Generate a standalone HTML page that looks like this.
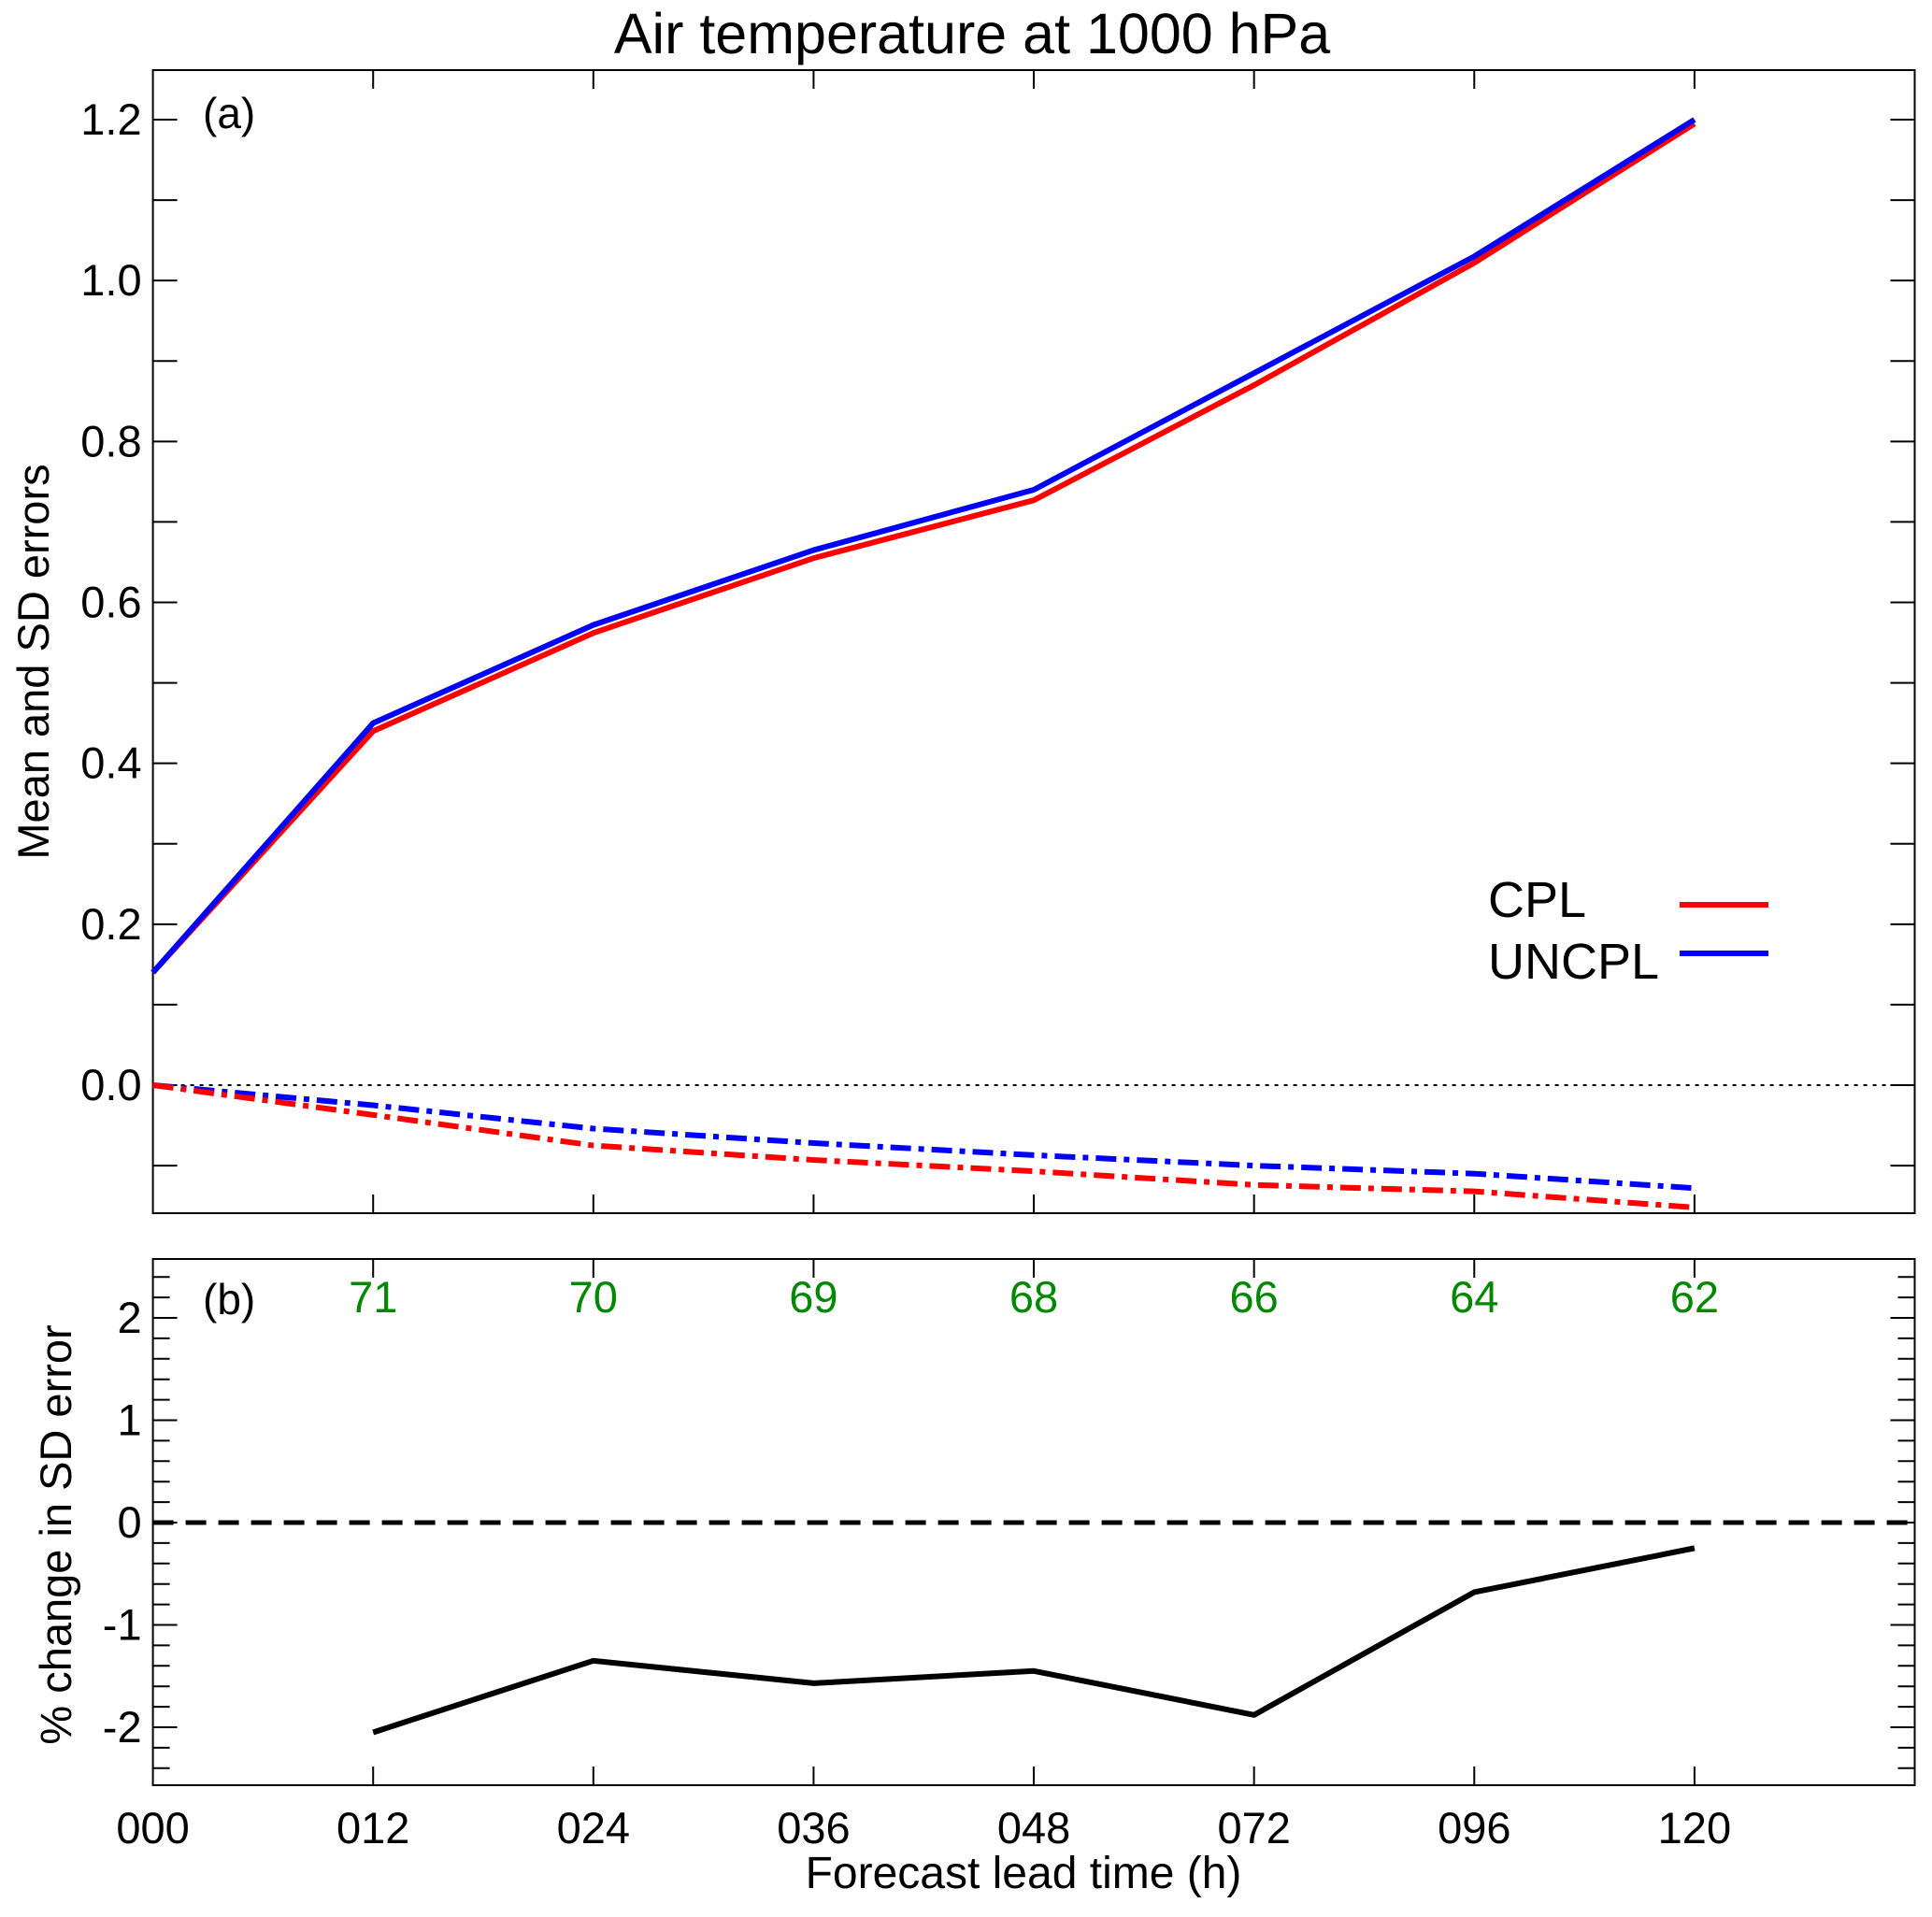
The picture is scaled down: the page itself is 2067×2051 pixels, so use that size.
<!DOCTYPE html>
<html><head><meta charset="utf-8"><style>
body{margin:0;background:#fff}
svg text{font-family:"Liberation Sans","DejaVu Sans",sans-serif;fill:#000}
</style></head><body>
<svg id="chart" width="2067" height="2046" viewBox="0 0 2067 2046" xmlns="http://www.w3.org/2000/svg">
<rect width="2067" height="2046" fill="#fff"/>
<text x="1040" y="57" font-size="61" text-anchor="middle">Air temperature at 1000 hPa</text>
<g id="pa"></g><g id="pb"></g>
</svg>
<script>
const categories=["000","012","024","036","048","072","096","120"];
const cplMean=[0.14,0.44,0.562,0.655,0.727,0.87,1.022,1.195];
const uncplMean=[0.14,0.45,0.572,0.665,0.74,0.885,1.03,1.2];
const cplBias=[0,-0.037,-0.075,-0.093,-0.107,-0.124,-0.132,-0.152];
const uncplBias=[0,-0.025,-0.054,-0.072,-0.087,-0.1,-0.11,-0.128];
const pctChange=[null,-2.05,-1.35,-1.57,-1.45,-1.88,-0.68,-0.25];
const sampleCounts=["","71","70","69","68","66","64","62"];
const aTicks=["0.0","0.2","0.4","0.6","0.8","1.0","1.2"];
const bTicks=["-2","-1","0","1","2"];

const NS="http://www.w3.org/2000/svg";
const L=163.6,R=2048.5;
const xs=i=>L+i*(R-L)/8;
const aTop=75,aBot=1298,ya=v=>1161-v*(1161-128)/1.2;
const bTop=1347,bBot=1910,yb=v=>1629-v*(1629-1410)/2;
function mk(p,t,a){const e=document.createElementNS(NS,t);for(const k in a)e.setAttribute(k,a[k]);p.appendChild(e);return e;}
const pa=document.getElementById('pa'),pb=document.getElementById('pb');

let f=mk(pa,'rect',{x:L,y:aTop,width:R-L,height:aBot-aTop,fill:'none',stroke:'#000','stroke-width':2});

for(let k=-1;k<=12;k++){const v=k/10,y=ya(v);if(y<aTop||y>aBot)continue;
 const len=26;
 mk(pa,'line',{x1:L,y1:y,x2:L+len,y2:y,stroke:'#000','stroke-width':2});
 mk(pa,'line',{x1:R,y1:y,x2:R-len,y2:y,stroke:'#000','stroke-width':2});}
aTicks.forEach(s=>{const t=mk(pa,'text',{x:L-12,y:ya(parseFloat(s))+16,'font-size':47,'text-anchor':'end'});t.textContent=s;
 });
for(let i=1;i<8;i++){mk(pa,'line',{x1:xs(i),y1:aBot,x2:xs(i),y2:aBot-20,stroke:'#000','stroke-width':2});
 mk(pa,'line',{x1:xs(i),y1:aTop,x2:xs(i),y2:aTop+20,stroke:'#000','stroke-width':2});}
mk(pa,'line',{x1:L,y1:ya(0),x2:R,y2:ya(0),stroke:'#000','stroke-width':2,'stroke-dasharray':'4,6'});
let t=mk(pa,'text',{x:217,y:137,'font-size':46});t.textContent='(a)';

t=mk(pa,'text',{x:0,y:0,'font-size':47,'text-anchor':'middle',transform:'translate(52,708) rotate(-90)'});t.textContent='Mean and SD errors';

function line(p,arr,fn,col,w,dash,name){const pts=[];arr.forEach((v,i)=>{if(v!==null)pts.push(xs(i)+','+fn(v));});
 const e=mk(p,'polyline',{points:pts.join(' '),fill:'none',stroke:col,'stroke-width':w,'stroke-linejoin':'round'});
 if(dash)e.setAttribute('stroke-dasharray',dash);
 }
line(pa,uncplBias,ya,'#0000ff',6,'22,8,6,8','uncpl-sd-line');
line(pa,cplBias,ya,'#ff0000',6,'22,8,6,8','cpl-sd-line');
line(pa,cplMean,ya,'#ff0000',6,null,'cpl-mean-line');
line(pa,uncplMean,ya,'#0000ff',6,null,'uncpl-mean-line');
t=mk(pa,'text',{x:1592,y:981,'font-size':54});t.textContent='CPL';
t=mk(pa,'text',{x:1592,y:1047,'font-size':54});t.textContent='UNCPL';
let e=mk(pa,'line',{x1:1797,y1:968,x2:1892,y2:968,stroke:'#ff0000','stroke-width':6});
e=mk(pa,'line',{x1:1797,y1:1020,x2:1892,y2:1020,stroke:'#0000ff','stroke-width':6});

f=mk(pb,'rect',{x:L,y:bTop,width:R-L,height:bBot-bTop,fill:'none',stroke:'#000','stroke-width':2});

for(let k=-13;k<=13;k++){const v=k/5,y=yb(v);if(y<bTop||y>bBot)continue;
 const len=(k%5===0)?26:18;
 mk(pb,'line',{x1:L,y1:y,x2:L+len,y2:y,stroke:'#000','stroke-width':2});
 mk(pb,'line',{x1:R,y1:y,x2:R-len,y2:y,stroke:'#000','stroke-width':2});}
bTicks.forEach(s=>{const t=mk(pb,'text',{x:L-12,y:yb(parseFloat(s))+16,'font-size':47,'text-anchor':'end'});t.textContent=s;
 });
for(let i=1;i<8;i++){mk(pb,'line',{x1:xs(i),y1:bBot,x2:xs(i),y2:bBot-20,stroke:'#000','stroke-width':2});
 mk(pb,'line',{x1:xs(i),y1:bTop,x2:xs(i),y2:bTop+20,stroke:'#000','stroke-width':2});}
categories.forEach((c,i)=>{const t=mk(pb,'text',{x:xs(i),y:1972,'font-size':47,'text-anchor':'middle'});t.textContent=c;
 });
sampleCounts.forEach((c,i)=>{if(!c)return;const t=mk(pb,'text',{x:xs(i),y:1404,'font-size':47,'text-anchor':'middle',style:'fill:#008800'});t.textContent=c;
 });
e=mk(pb,'line',{x1:L,y1:yb(0),x2:R,y2:yb(0),stroke:'#000','stroke-width':5,'stroke-dasharray':'22,13'});

line(pb,pctChange,yb,'#000',6,null,'pct-change-line');
t=mk(pb,'text',{x:217,y:1406,'font-size':46});t.textContent='(b)';

t=mk(pb,'text',{x:0,y:0,'font-size':47,'text-anchor':'middle',transform:'translate(76,1642) rotate(-90)'});t.textContent='% change in SD error';

t=mk(pb,'text',{x:1095,y:2020,'font-size':48,'text-anchor':'middle'});t.textContent='Forecast lead  time (h)';

</script>
</body></html>
